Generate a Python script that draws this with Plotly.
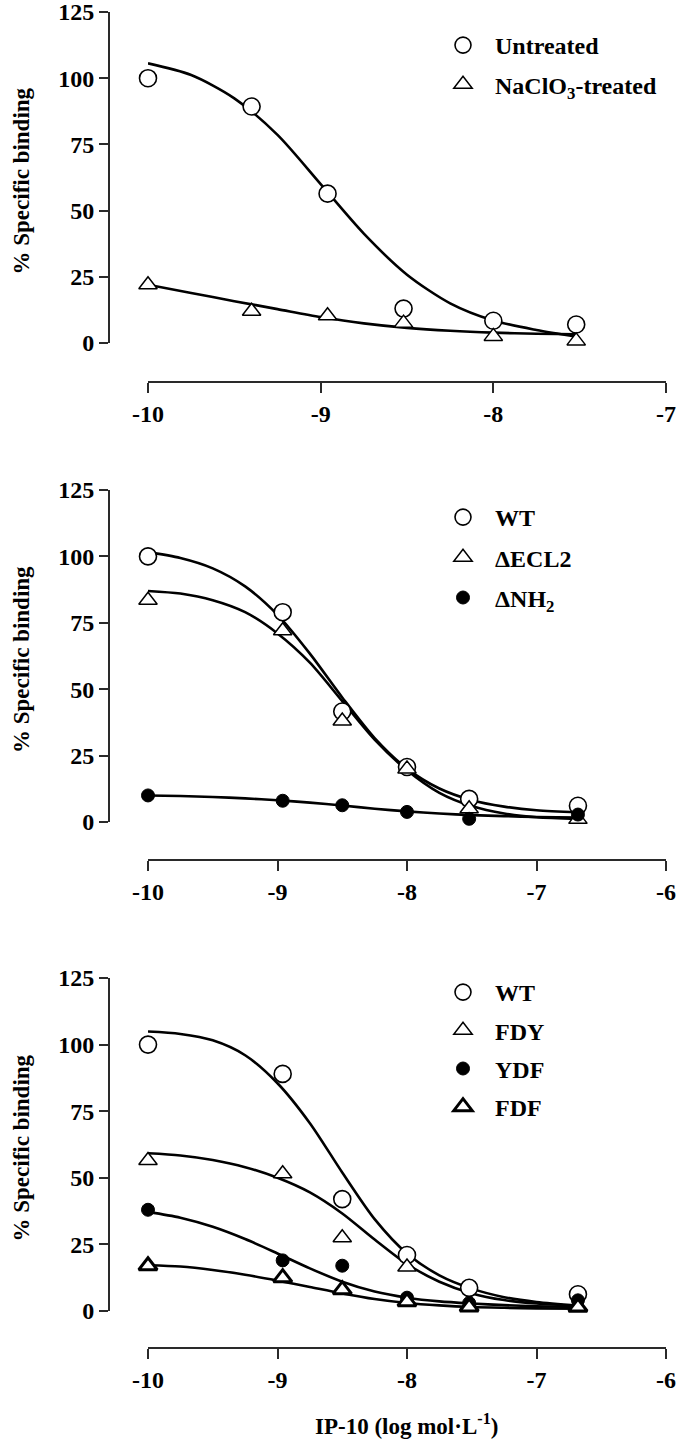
import plotly.graph_objects as go

W, H = 676, 1444
FONT = "Liberation Serif"

# ---------------- Panel 1 data ----------------
p1_x = [-10, -9.4, -8.96, -8.52, -8, -7.52]
p1_untreated = [100, 89.3, 56.4, 13, 8.4, 7]
p1_naclo3 = [22, 12, 10.3, 7.5, 2.5, 0.8]
p1_fit_x = [-10, -9.75, -9.5, -9.25, -9, -8.75, -8.5, -8.25, -8, -7.75, -7.52]
p1_fit_untreated = [105.6, 101.2, 92.4, 78.6, 60, 41.3, 25.8, 15, 8.5, 4.9, 2.4]
p1_fit_naclo3 = [22, 18.9, 15.8, 12.8, 9.8, 7.4, 5.7, 4.6, 3.9, 3.5, 3.3]
p1_ticks = [-10, -9, -8, -7]
p1_ticktext = ["-10", "-9", "-8", "-7"]

# ---------------- Panel 2 data ----------------
p2_x = [-10, -8.96, -8.5, -8, -7.52, -6.68]
p2_wt = [100, 79, 41.6, 20.7, 8.7, 6.1]
p2_ecl2 = [83.5, 72, 38, 20, 5, 1]
p2_nh2 = [10, 8, 6.3, 3.8, 1.2, 2.8]
p2_fit_x = [-10, -9.75, -9.5, -9.25, -9, -8.75, -8.5, -8.25, -8, -7.75, -7.5, -7.25, -7, -6.68]
p2_fit_wt = [101.6, 99.4, 95.5, 88.7, 78, 63.4, 46.9, 31.6, 20.1, 12.6, 8.2, 5.8, 4.4, 3.6]
p2_fit_ecl2 = [87, 86, 83.5, 79, 71, 60, 45.5, 31, 19.5, 11, 6, 3.2, 1.8, 1.2]
p2_fit_nh2 = [10, 9.8, 9.4, 8.9, 8.2, 7.3, 6.2, 5, 4, 3.2, 2.6, 2.2, 1.9, 1.7]
p2_ticks = [-10, -9, -8, -7, -6]
p2_ticktext = ["-10", "-9", "-8", "-7", "-6"]

# ---------------- Panel 3 data ----------------
p3_x = [-10, -8.96, -8.5, -8, -7.52, -6.68]
p3_wt = [100, 89, 42, 21, 8.7, 6.3]
p3_fdy = [56.5, 51.5, 27.5, 16.5, 2, 1.2]
p3_ydf = [38, 19, 17, 5, 3, 4]
p3_fdf = [17, 12.5, 8, 3.5, 1.5, 1.5]
p3_fit_x = [-10, -9.75, -9.5, -9.25, -9, -8.75, -8.5, -8.25, -8, -7.75, -7.5, -7.25, -7, -6.68]
p3_fit_wt = [104.9, 104, 101.6, 96, 85.5, 70.5, 52, 34.5, 21.6, 13.4, 8.4, 5.2, 3.4, 2.1]
p3_fit_fdy = [59.2, 58.4, 56.7, 54, 50, 44.5, 36.6, 26.8, 17.6, 11, 6.6, 4.1, 2.8, 1.9]
p3_fit_ydf = [37.2, 35, 31.6, 27, 21.6, 16, 11, 7.3, 5.0, 3.6, 2.8, 2.2, 1.8, 1.5]
p3_fit_fdf = [17.2, 16.7, 15.4, 13.6, 11.4, 9, 6.6, 4.5, 3, 2.1, 1.5, 1.2, 1.0, 0.9]
p3_ticks = [-10, -9, -8, -7, -6]
p3_ticktext = ["-10", "-9", "-8", "-7", "-6"]

y_ticks = [0, 25, 50, 75, 100, 125]

fig = go.Figure()

def px_y(p):
    return 1 - p / H

def px_x(p):
    return p / W

CURVE = dict(color="black", width=2.6, shape="spline", smoothing=0.8)

def curve(x, y, ax):
    fig.add_trace(go.Scatter(x=x, y=y, mode="lines", line=CURVE, showlegend=False,
                             hoverinfo="skip", xaxis="x" + ax, yaxis="y" + ax, cliponaxis=False))

def open_circle(x, y, name, ax, lg):
    fig.add_trace(go.Scatter(x=x, y=y, mode="markers", name=name,
                             marker=dict(symbol="circle", size=17, color="white",
                                         line=dict(color="black", width=1.6)),
                             xaxis="x" + ax, yaxis="y" + ax, legend=lg, legendgroup=lg + name,
                             cliponaxis=False))

def open_tri(x, y, name, ax, lg, lw=1.5):
    fig.add_trace(go.Scatter(x=x, y=y, mode="markers", name=name,
                             marker=dict(symbol="triangle-up", size=16, color="white",
                                         line=dict(color="black", width=lw)),
                             xaxis="x" + ax, yaxis="y" + ax, legend=lg, legendgroup=lg + name,
                             cliponaxis=False))

def filled_circle(x, y, name, ax, lg):
    fig.add_trace(go.Scatter(x=x, y=y, mode="markers", name=name,
                             marker=dict(symbol="circle", size=13, color="black",
                                         line=dict(color="black", width=1)),
                             xaxis="x" + ax, yaxis="y" + ax, legend=lg, legendgroup=lg + name,
                             cliponaxis=False))

# Panel 1
curve(p1_fit_x, p1_fit_untreated, "")
curve(p1_fit_x, p1_fit_naclo3, "")
open_circle(p1_x, p1_untreated, "Untreated", "", "legend")
open_tri(p1_x, p1_naclo3, "NaClO<sub>3</sub>-treated", "", "legend")

# Panel 2
curve(p2_fit_x, p2_fit_wt, "2")
curve(p2_fit_x, p2_fit_ecl2, "2")
curve(p2_fit_x, p2_fit_nh2, "2")
open_circle(p2_x, p2_wt, "WT", "2", "legend2")
open_tri(p2_x, p2_ecl2, "ΔECL2", "2", "legend2")
filled_circle(p2_x, p2_nh2, "ΔNH<sub>2</sub>", "2", "legend2")

# Panel 3
curve(p3_fit_x, p3_fit_wt, "3")
curve(p3_fit_x, p3_fit_fdy, "3")
curve(p3_fit_x, p3_fit_ydf, "3")
curve(p3_fit_x, p3_fit_fdf, "3")
open_circle(p3_x, p3_wt, "WT", "3", "legend3")
open_tri(p3_x, p3_fdy, "FDY", "3", "legend3")
filled_circle(p3_x, p3_ydf, "YDF", "3", "legend3")
open_tri(p3_x, p3_fdf, "FDF", "3", "legend3", lw=3)

tickfont = dict(family=FONT, size=24, color="black", weight="bold")
AXC = "#2a2a2a"

def xax(rng, tv, tt, pos):
    return dict(range=rng, domain=[px_x(148), px_x(666)], anchor="free", position=pos,
                showline=True, linewidth=2, linecolor=AXC, ticks="outside", ticklen=10,
                tickwidth=2, tickcolor=AXC, tickvals=tv, ticktext=tt, tickfont=tickfont,
                showgrid=False, zeroline=False, fixedrange=True, automargin=False,
                ticklabeloverflow="allow")

def yax(top_px, bot_px):
    return dict(range=[0, 125], domain=[px_y(bot_px), px_y(top_px)], anchor="free",
                position=px_x(109), showline=True, linewidth=2, linecolor=AXC,
                ticks="outside", ticklen=9, tickwidth=2, tickcolor=AXC, tickvals=y_ticks,
                tickfont=tickfont, showgrid=False, zeroline=False, fixedrange=True,
                automargin=False, ticklabeloverflow="allow")

legfont = dict(family=FONT, size=24, color="black", weight="bold")

def leg(top_px, gap):
    return dict(x=px_x(431), y=px_y(top_px), xanchor="left", yanchor="top", font=legfont,
                itemwidth=54, tracegroupgap=gap, bgcolor="rgba(0,0,0,0)", borderwidth=0)

titlefont = dict(family=FONT, size=23, color="black", weight="bold")
annotations = []
for top_px, bot_px in [(12, 343), (490, 822), (978, 1311)]:
    annotations.append(dict(text="% Specific binding", xref="paper", yref="paper",
                            x=px_x(21), y=px_y((top_px + bot_px) / 2 + 4), textangle=-90,
                            showarrow=False, xanchor="center", yanchor="middle",
                            font=titlefont))
annotations.append(dict(text="IP-10 (log mol·L<sup>-1</sup>)", xref="paper", yref="paper",
                        x=px_x(406), y=px_y(1424), showarrow=False, xanchor="center",
                        yanchor="middle", font=titlefont))

fig.update_layout(
    width=W, height=H, margin=dict(l=0, r=0, t=0, b=0, autoexpand=False),
    paper_bgcolor="white", plot_bgcolor="white",
    xaxis=xax([-10, -7], p1_ticks, p1_ticktext, px_y(382)),
    yaxis=yax(12, 343),
    xaxis2=xax([-10, -6], p2_ticks, p2_ticktext, px_y(860)),
    yaxis2=yax(490, 822),
    xaxis3=xax([-10, -6], p3_ticks, p3_ticktext, px_y(1348)),
    yaxis3=yax(978, 1311),
    legend=leg(23, 5),
    legend2=leg(495, 6),
    legend3=leg(970, 4),
    annotations=annotations,
    showlegend=True,
)

# remove the default 8 px page margin so the figure fills the window exactly
fig.write_html("out.html", config={"displayModeBar": False},
               post_script="document.body.style.margin='0px';")
